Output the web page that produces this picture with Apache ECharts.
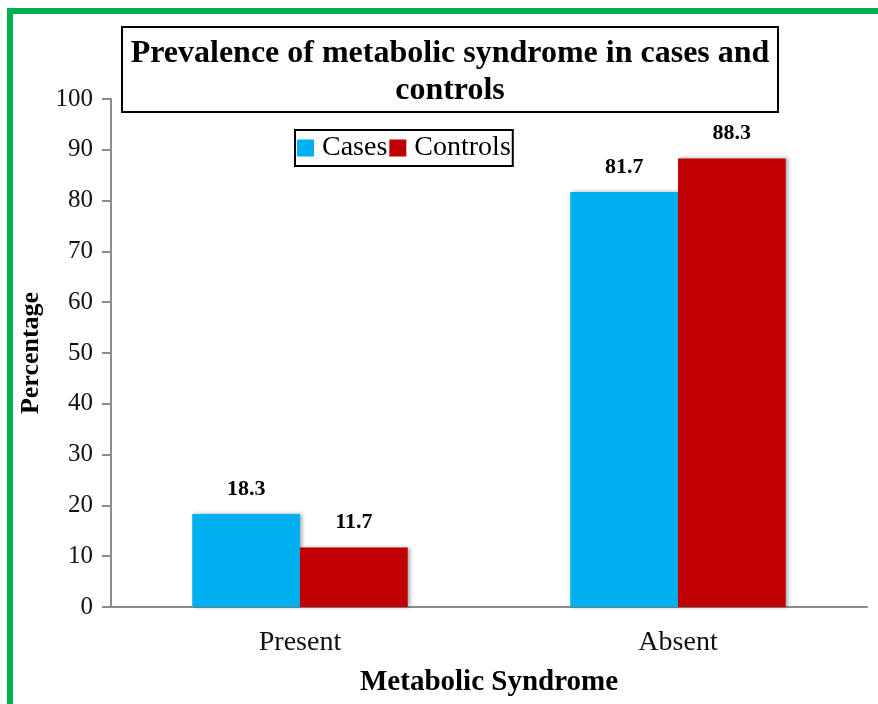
<!DOCTYPE html>
<html>
<head>
<meta charset="utf-8">
<script src="https://cdn.jsdelivr.net/npm/echarts@6/dist/echarts.min.js"></script>
<style>
html,body{margin:0;padding:0;background:#fff;}
#chart{width:878px;height:704px;}
</style>
</head>
<body>
<div id="chart"></div>
<script>
const categories = ['Present', 'Absent'];
const casesValues = [18.3, 81.7];
const controlsValues = [11.7, 88.3];
const seriesNames = ['Cases', 'Controls'];
const titleText = 'Prevalence of metabolic syndrome in cases and\ncontrols';
const xAxisName = 'Metabolic Syndrome';
const yAxisName = 'Percentage';

const FONT = '"Liberation Serif", "Times New Roman", serif';
const chart = echarts.init(document.getElementById('chart'));

const labelStyle = {
  show: true,
  position: 'top',
  distance: 14,
  fontFamily: FONT,
  fontWeight: 'bold',
  fontSize: 22,
  color: '#000'
};
const barShadow = {shadowColor: 'rgba(0,0,0,0.35)', shadowBlur: 4, shadowOffsetX: 2, shadowOffsetY: 0};

chart.setOption({
  animation: false,
  backgroundColor: '#fff',
  graphic: [{
    type: 'rect',
    shape: {x: 10, y: 11, width: 920, height: 760},
    style: {fill: 'none', stroke: '#00B050', lineWidth: 6},
    silent: true,
    z: 100
  }],
  title: {
    text: titleText,
    left: 441,
    top: 27,
    textAlign: 'center',
    borderColor: '#000',
    borderWidth: 2,
    padding: [8, 9, 3, 9],
    textStyle: {
      fontFamily: FONT,
      fontWeight: 'bold',
      fontSize: 32,
      lineHeight: 37,
      color: '#000'
    }
  },
  legend: {
    left: 295,
    top: 130,
    orient: 'horizontal',
    borderColor: '#000',
    borderWidth: 2,
    padding: [4, 2, 4, 2],
    itemGap: 2,
    itemWidth: 17,
    itemHeight: 17,
    icon: 'rect',
    textStyle: {fontFamily: FONT, fontSize: 28, color: '#000', padding: [0, 0, 0, 3]},
    data: seriesNames
  },
  grid: {left: 111, right: 11, top: 99, bottom: 97, containLabel: false},
  xAxis: {
    type: 'category',
    data: categories,
    name: xAxisName,
    nameLocation: 'middle',
    nameGap: 61,
    nameTextStyle: {fontFamily: FONT, fontWeight: 'bold', fontSize: 29, color: '#000'},
    axisLine: {show: true, lineStyle: {color: '#8c8c8c', width: 2}},
    axisTick: {show: false},
    axisLabel: {fontFamily: FONT, fontSize: 28, color: '#111', margin: 22}
  },
  yAxis: {
    type: 'value',
    min: 0,
    max: 100,
    interval: 10,
    name: yAxisName,
    nameLocation: 'middle',
    nameGap: 64,
    nameTextStyle: {fontFamily: FONT, fontWeight: 'bold', fontSize: 26, color: '#000'},
    axisLine: {show: true, lineStyle: {color: '#8c8c8c', width: 2}},
    axisTick: {show: true, length: 9, lineStyle: {color: '#8c8c8c', width: 2}},
    axisLabel: {fontFamily: FONT, fontSize: 25, color: '#111', margin: 18},
    splitLine: {show: false}
  },
  series: [
    {
      name: seriesNames[0],
      type: 'bar',
      data: casesValues,
      barGap: '0%',
      barCategoryGap: '43%',
      itemStyle: Object.assign({color: '#00B0F0'}, barShadow),
      label: labelStyle
    },
    {
      name: seriesNames[1],
      type: 'bar',
      data: controlsValues,
      barGap: '0%',
      barCategoryGap: '43%',
      itemStyle: Object.assign({color: '#C00000'}, barShadow),
      label: labelStyle
    }
  ]
});
</script>
</body>
</html>
